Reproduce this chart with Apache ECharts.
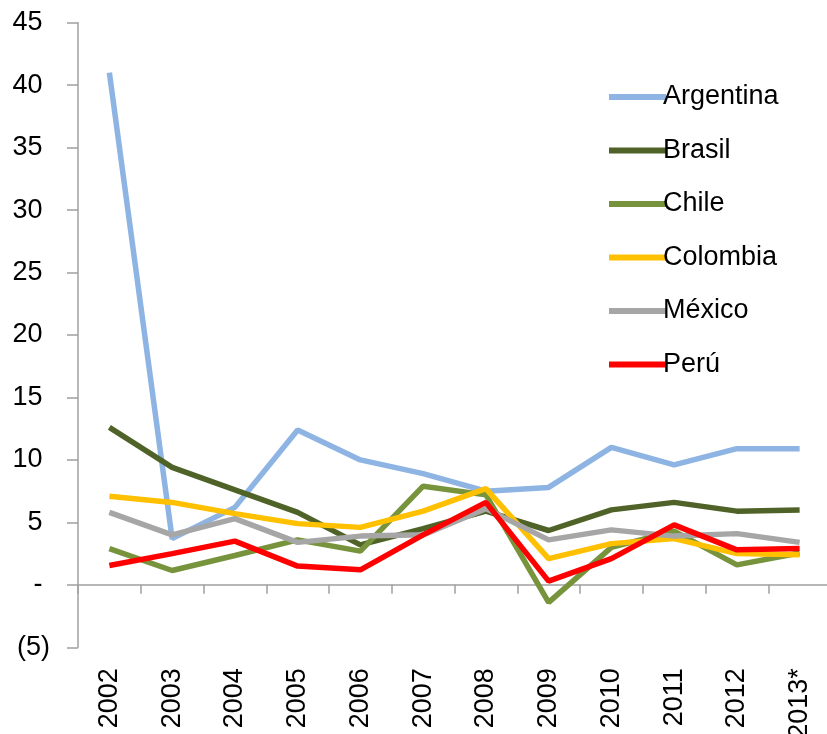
<!DOCTYPE html>
<html>
<head>
<meta charset="utf-8">
<script src="https://cdn.jsdelivr.net/npm/echarts@6/dist/echarts.min.js"></script>
<style>
html,body{margin:0;padding:0;background:#fff;}
#chart{width:827px;height:734px;}
</style>
</head>
<body>
<div id="chart"></div>
<script>
var years = ['2002','2003','2004','2005','2006','2007','2008','2009','2010','2011','2012','2013*'];
var argentina = [41.0, 3.7, 6.2, 12.4, 10.0, 8.9, 7.5, 7.8, 11.0, 9.6, 10.9, 10.9];
var brasil    = [12.6, 9.4, 7.6, 5.8, 3.2, 4.5, 5.9, 4.35, 6.0, 6.6, 5.9, 6.0];
var chile     = [2.9, 1.15, 2.35, 3.6, 2.7, 7.9, 7.2, -1.4, 3.0, 4.3, 1.6, 2.55];
var colombia  = [7.1, 6.6, 5.7, 4.9, 4.6, 5.9, 7.7, 2.1, 3.3, 3.7, 2.5, 2.4];
var mexico    = [5.8, 4.0, 5.3, 3.4, 3.9, 4.0, 6.1, 3.6, 4.4, 3.9, 4.1, 3.4];
var peru      = [1.55, 2.5, 3.5, 1.5, 1.2, 4.0, 6.6, 0.3, 2.1, 4.8, 2.8, 2.9];
var yTicks = {min: -5, max: 45, interval: 5};

var names = ['Argentina','Brasil','Chile','Colombia','México','Perú'];
var values = [argentina, brasil, chile, colombia, mexico, peru];
var colors = ['#8EB4E3','#4F6228','#77933C','#FFC000','#A6A6A6','#FF0000'];

var font = '"Liberation Sans", Arial, sans-serif';
var chart = echarts.init(document.getElementById('chart'));
chart.setOption({
  animation: false,
  backgroundColor: '#fff',
  grid: {left: 78, top: 22.7, width: 753, height: 624.6, containLabel: false, outerBoundsMode: 'none'},
  legend: {
    orient: 'vertical',
    left: 604,
    top: 77,
    icon: 'rect',
    itemWidth: 57,
    itemHeight: 6,
    itemGap: 23.5,
    textStyle: {fontFamily: font, fontSize: 27, color: '#000', lineHeight: 30, padding: [0,0,0,-8]},
    data: names
  },
  xAxis: [{
    type: 'category',
    data: years,
    boundaryGap: true,
    axisLine: {onZero: true, lineStyle: {color: '#A0A0A0', width: 1.5}},
    axisTick: {show: true, length: 9, inside: false, lineStyle: {color: '#A0A0A0', width: 1.5}},
    axisLabel: {show: false}
  }, {
    type: 'category',
    data: years,
    position: 'bottom',
    boundaryGap: true,
    axisLine: {show: false, onZero: false},
    axisTick: {show: false},
    axisLabel: {show: true, rotate: 90, margin: 21, fontFamily: font, fontSize: 27, color: '#000', interval: 0}
  }],
  yAxis: {
    type: 'value',
    min: yTicks.min,
    max: yTicks.max,
    interval: yTicks.interval,
    splitLine: {show: false},
    axisLine: {show: true, lineStyle: {color: '#A0A0A0', width: 1.5}},
    axisTick: {show: true, length: 11, lineStyle: {color: '#A0A0A0', width: 1.5}},
    axisLabel: {
      margin: 28,
      fontFamily: font, fontSize: 27, color: '#000',
      formatter: function (v) {
        if (v === 0) return '- ';
        if (v < 0) return '(' + Math.abs(v) + ')';
        return v + ' ';
      }
    }
  },
  series: names.map(function (n, i) {
    return {
      name: n,
      type: 'line',
      data: values[i],
      xAxisIndex: 0,
      symbol: 'none',
      smooth: false,
      lineStyle: {color: colors[i], width: 5.5},
      itemStyle: {color: colors[i]}
    };
  })
});
</script>
</body>
</html>
